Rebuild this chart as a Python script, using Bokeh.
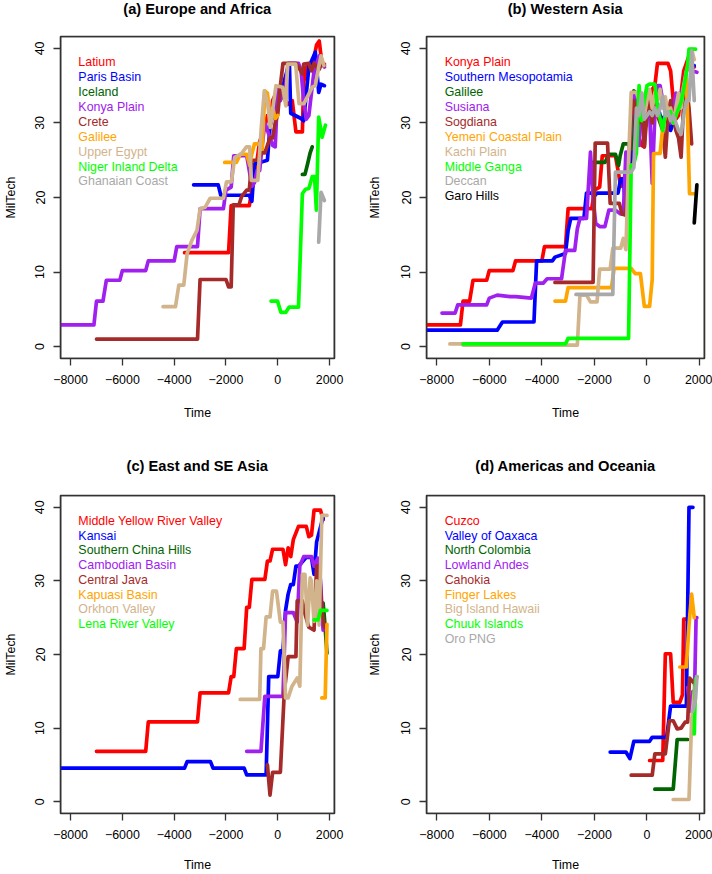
import math
from bokeh.plotting import figure
from bokeh.layouts import column, row
from bokeh.models import FixedTicker, Range1d, BoxAnnotation, Label
from bokeh.core.properties import value
from bokeh.embed import file_html
from bokeh.resources import INLINE

FONT = "Liberation Sans"

# ---------------- shared axis ticks ----------------
x_ticks = [-8000, -6000, -4000, -2000, 0, 2000]
x_tick_labels = ["\u22128000", "\u22126000", "\u22124000", "\u22122000", "0", "2000"]
y_ticks = [0, 10, 20, 30, 40]
y_tick_labels = ["0", "10", "20", "30", "40"]

colors = ["#FF0000", "#0000FF", "#006400", "#A020F0", "#A52A2A",
          "#FFA500", "#D2B48C", "#00FF00", "#A9A9A9", "#000000"]

# ---------------- shared series ----------------
konya_t = [-8500, -7100, -7000, -6750, -6620, -6100, -6000, -5100, -5000, -4000, -3900, -3100, -3000,
           -2100, -2000, -1800, -1700, -1200, -1100, -1000, -900, -800, -700, -600, -500, -400, -300,
           -200, -100, 0, 100, 200, 300, 400, 800, 900, 1000, 1100, 1200, 1300, 1400, 1500, 1600, 1700, 1800]
konya_v = [2.9, 2.9, 6.1, 6.1, 8.9, 8.9, 10.2, 10.2, 11.5, 11.5, 13.4, 13.4, 18.5,
           18.5, 21, 21.4, 25.6, 25.6, 23.6, 21.5, 22, 23.6, 23.6, 27, 30, 29, 28,
           27, 26.8, 34.5, 33, 34.5, 35, 38, 38, 37, 33, 30.5, 31, 34, 37, 38, 39, 38, 37.5]

galilee_t = [-2050, -1600, -1450, -1200, -1080, -1020, -900, -700, -640, -600, -500, -400, -300, -200, -100, 0]
galilee_v = [24.7, 24.7, 25.8, 25.8, 24.3, 25.6, 27.2, 27.2, 26.5, 26.5, 34.3, 34, 30.8, 32, 30.6, 31]

# ---------------- (a) Europe and Africa ----------------
latium_t = [-3600, -1900, -1800, -1100, -1000, -800, -700, -500, -400, -300, -200, 0, 200, 400, 560,
            700, 950, 1000, 1100, 1300, 1400, 1500, 1600, 1700, 1800]
latium_v = [12.6, 12.6, 18.9, 18.9, 21, 25, 27.5, 29.5, 31, 30, 33, 34.5, 33.5, 32.5, 33,
            28.8, 28.8, 35.5, 37.5, 38, 38.8, 40.5, 41, 38.1, 37.9]

paris_t = [-3250, -2300, -2200, -1100, -1000, -900, -400, -300, -200, 0, 200, 400, 450, 500, 900,
           1000, 1200, 1450, 1580, 1670, 1800]
paris_v = [21.7, 21.7, 20.3, 20.3, 19.5, 24.5, 25, 29.5, 31, 34.5, 35, 37.5, 37.7, 31.3, 30.6,
           30.3, 37.5, 39.5, 34.1, 35.2, 35]

iceland_t = [950, 1050, 1150, 1250, 1330]
iceland_v = [23.1, 23.1, 24.5, 26, 26.8]

crete_t = [-7000, -3100, -3000, -2000, -1900, -1800, -1720, -1500, -1400, -1200, -1100, -1000, -800,
           -600, -500, -300, -200, -100, 0, 100, 200, 700, 800, 950, 1000, 1200, 1300, 1400, 1500,
           1600, 1700, 1800]
crete_v = [1, 1, 9, 9, 8, 8, 19, 19, 20.1, 21, 21, 25, 25,
           26, 26, 28, 28, 30, 31.2, 35, 38, 38, 37.5, 36.6, 37.9, 38, 37, 38, 37.5,
           37.2, 38, 37.7]

egypt_t = [-4430, -3950, -3820, -3630, -3500, -3310, -3120, -3000, -2800, -2610, -2100, -1980, -1790,
           -1660, -1400, -1210, -1090, -1020, -770, -640, -520, -390, -290, -200, -70, 190, 310, 380,
           690, 820, 1010, 1200, 1330, 1450, 1580, 1670, 1780]
egypt_v = [5.35, 5.35, 8.25, 8.25, 12.5, 14.3, 15.6, 18.5, 18.7, 19.9, 19.9, 22.1, 22.1,
           25.4, 25.9, 26.8, 26.8, 22.3, 22.3, 29.2, 34.3, 32.6, 29.4, 31.7, 35, 34.8, 32.3, 37.9,
           37.9, 32.6, 32.6, 33.9, 34.8, 35, 37.5, 39, 37.7]

niger_t = [-260, -10, 120, 310, 440, 800, 950, 1070, 1200, 1330, 1420, 1490, 1580, 1710, 1840]
niger_v = [6.1, 6.1, 4.6, 4.6, 5.3, 5.3, 20.5, 21.1, 21.2, 22.8, 22.8, 18.3, 30.8, 28.1, 29.7]

ghana_t = [1580, 1670, 1800]
ghana_v = [14, 20.7, 19.6]

# ---------------- (b) Western Asia ----------------
smeso_t = [-8500, -5700, -5500, -4300, -4200, -3600, -3500, -3100, -3000, -2900, -2400, -2300, -2100,
           -2000, -1900, -1100, -1000, -900, -800, -700, -600, -500, -400, -300, -200, -100, 0, 100,
           200, 300, 400, 500, 600, 700, 800, 900, 1000, 1100, 1200, 1300, 1400, 1500, 1600, 1700, 1800]
smeso_v = [2.2, 2.2, 3.3, 3.3, 11.5, 11.5, 12, 12.5, 15.6, 17.2, 17.2, 20.6, 20.6,
           20.2, 20.6, 20.6, 22.5, 22.5, 18.2, 24, 24, 30, 32, 33, 31, 32.8, 33, 32.5,
           33, 32, 32.5, 31, 30.5, 31, 30, 29, 30, 31, 32, 33, 35, 37, 38, 37.7, 37.7]

susiana_t = [-7800, -7300, -7200, -6100, -6000, -5700, -5200, -5000, -4400, -4250, -3950, -3800, -3250,
             -3100, -2750, -2650, -2550, -2300, -2150, -2050, -1950, -1800, -1600, -1450, -1200, -1000,
             -900, -800, -700, -600, -500, -400, -300, -200, -100, 0, 100, 200, 300, 400, 500, 600,
             700, 800, 900, 1000, 1100, 1200, 1300, 1400, 1500, 1600, 1700, 1900]
susiana_v = [4.5, 4.5, 5.6, 5.6, 6.5, 6.9, 6.7, 6.7, 6.5, 8.5, 8.5, 9.1, 9.1,
             12.9, 12.9, 15.8, 17.2, 17.2, 26.1, 20, 16.5, 16.1, 16.1, 18.3, 18.3, 17.8,
             17.8, 26.1, 25, 30, 34, 32, 27, 33, 31, 32, 31.7, 21.9, 31, 35, 35, 33,
             32, 31, 30, 32, 34, 33, 34, 35, 37, 38, 37, 36.8]

sogdiana_t = [-3500, -2050, -1970, -1500, -1400, -1050, -950, -800, -700, -600, -500, -400, -300, -200,
              -100, 0, 100, 200, 300, 400, 500, 600, 700, 800, 900, 1000, 1100, 1200, 1300, 1400,
              1500, 1600, 1700]
sogdiana_v = [8.6, 8.6, 27.3, 27.3, 19.2, 19.2, 17.8, 17.6, 23.6, 30.7, 33, 31, 30, 32,
              26.8, 31, 33, 30, 33, 31, 30, 29, 25.4, 31, 33, 31, 29, 28, 25.4, 33,
              35, 32, 27.2]

yemen_t = [-3500, -3100, -3000, -1350, -1250, -600, -450, -250, -100, 100, 200, 250, 500, 600, 700,
           800, 900, 1000, 1100, 1200, 1300, 1400, 1500, 1550, 1620, 1800]
yemen_v = [6.1, 6.1, 7.9, 7.9, 10.5, 10.5, 9.8, 9.8, 5.4, 5.4, 9, 25.9, 25.9, 29.4, 31,
           32, 31, 30, 31, 32, 33, 35, 36, 30, 20.5, 20.5]

kachi_t = [-7500, -7050, -7000, -2650, -2550, -2300, -2150, -1900, -1800, -1400, -1300, -1000, -900,
           -800, -700, -600, -400, -300, -200, -100, 0, 100, 200, 300, 400, 500, 600, 700, 800, 900,
           1000, 1100, 1200, 1300, 1400, 1500, 1600, 1700, 1800]
kachi_v = [0.35, 0.35, 0.2, 0.2, 6.9, 6.9, 6.0, 6.0, 10.4, 10.4, 13.2, 13.2, 14.5,
           13, 25, 34.1, 34.1, 33, 34, 31, 33, 34.5, 32, 34, 33, 34.5, 32, 33.5, 31, 32,
           30, 32, 34, 32, 35, 37, 38, 39.9, 38.5]

ganga_t = [-7000, -3100, -3000, -700, -600, -500, -400, -300, -200, -100, 0, 100, 300, 400, 600, 700,
           900, 1000, 1300, 1400, 1550, 1600, 1850]
ganga_v = [0.35, 0.35, 1.1, 1.1, 24.3, 24.5, 26, 35, 30.3, 33, 35, 35.2, 35.2, 32.1, 29, 31.2,
           31.5, 30, 32.8, 34.6, 37.9, 39.9, 39.9]

deccan_t = [-2700, -1300, -1200, -600, -500, -400, -300, -200, -100, 0, 100, 200, 300, 400, 500, 600,
            700, 800, 900, 1000, 1100, 1200, 1300, 1400, 1500, 1600, 1700, 1800]
deccan_v = [7.0, 7.0, 23.4, 23.4, 24, 32, 31, 34, 30.5, 31, 31.5, 31, 32, 31, 32, 33.5,
            31, 31.5, 30.3, 31, 30, 29, 28.5, 31, 33, 33, 39.7, 33]

garo_t = [1800, 1900]
garo_v = [16.6, 21.7]

# ---------------- (c) East and SE Asia ----------------
myrv_t = [-7000, -5100, -5000, -3100, -3000, -1900, -1800, -1700, -1600, -1300, -1200, -1100, -1000,
          -500, -400, -300, -200, 200, 300, 400, 500, 600, 800, 1100, 1200, 1300, 1400, 1650, 1750]
myrv_v = [6.85, 6.85, 10.85, 10.85, 14.8, 14.8, 17, 17, 20.8, 20.8, 26.4, 26.4, 30.2,
          30.2, 32.7, 32.7, 34.3, 34.3, 32.2, 34.5, 33.3, 35.6, 37.4, 37.4, 36, 36.2, 39.6, 39.6, 38.3]

kansai_t = [-8500, -3600, -3500, -2600, -2500, -1300, -1200, -450, -350, 0, 100, 200, 300, 400, 500,
            600, 700, 800, 1100, 1300, 1400, 1500, 1700, 1750]
kansai_v = [4.56, 4.56, 5.45, 5.45, 4.56, 4.56, 3.65, 3.65, 17, 17, 20.5, 20.5, 26, 28.2, 29.5,
            29.5, 32, 32, 33.2, 33.2, 30.9, 35.3, 38, 38.5]

schina_t = [1650, 1750, 1800, 1900]
schina_v = [24.5, 27, 25, 20.2]

cambod_t = [-1200, -650, -500, 200, 300, 600, 750, 850, 1000, 1300, 1400, 1550, 1650, 1750]
cambod_v = [6.85, 6.85, 14.3, 14.3, 25.7, 25.7, 24.4, 32, 33.3, 33.3, 32, 33.1, 30, 23.3]

java_t = [-400, -300, -200, 100, 250, 400, 700, 750, 950, 1050, 1200, 1400, 1500, 1600, 1700, 1800]
java_v = [5, 0.9, 4, 4, 14.8, 19.7, 19.7, 27.3, 27.3, 25.5, 23.7, 23.3, 32, 32, 26, 23.7]

kapuasi_t = [1700, 1830, 1900]
kapuasi_v = [14.1, 14.1, 24.1]

orkhon_t = [-1450, -700, -650, -550, -450, -300, -200, -50, 100, 200, 300, 400, 550, 750, 850, 950,
            1050, 1150, 1250, 1300, 1400, 1500, 1600, 1700, 1900]
orkhon_v = [13.9, 13.9, 20.8, 20.8, 25.1, 25.1, 28.6, 28.6, 24.4, 24.4, 14.1, 14.1, 15.7, 16.8, 15.7,
            30.9, 30.9, 24, 30.4, 30, 24.5, 30, 24, 38.9, 38.9]

lena_t = [1400, 1550, 1650, 1900]
lena_v = [24.7, 24.7, 26, 26]

# ---------------- (d) Americas and Oceania ----------------
cuzco_t = [100, 600, 700, 900, 1000, 1250, 1350, 1400, 1530]
cuzco_v = [5.6, 5.6, 20.1, 20.1, 13.5, 13.5, 14.5, 24.8, 24.8]

oaxaca_t = [-1400, -800, -650, -500, 100, 200, 750, 900, 1500, 1600, 1750]
oaxaca_v = [6.75, 6.75, 5.85, 8.2, 8.2, 8.75, 8.75, 13, 13, 40, 40]

ncolombia_t = [300, 1000, 1150, 1550]
ncolombia_v = [1.7, 1.7, 8.45, 8.45]

lowandes_t = [1550, 1650, 1750, 1800, 1870, 1900]
lowandes_v = [15.5, 12.3, 15, 13, 25, 25]

cahokia_t = [-600, 200, 300, 700, 850, 1000, 1150, 1300, 1450, 1550, 1620, 1700, 1800]
cahokia_v = [3.6, 3.6, 6.5, 6.5, 11, 11, 9.9, 10, 10.8, 10.8, 16.8, 16.5, 16.1]

finger_t = [1250, 1500, 1600, 1700, 1800]
finger_v = [18.3, 18.3, 24, 28.2, 25]

hawaii_t = [1000, 1600, 1700, 1800, 1900]
hawaii_v = [0.3, 0.3, 11, 15, 17]

chuuk_t = [1800, 1850, 1900]
chuuk_v = [9.2, 16.6, 17]

oro_t = [1750, 1850, 1900]
oro_v = [12.3, 14, 17]

# ---------------- panel definitions ----------------
titles = ["(a) Europe and Africa", "(b) Western Asia", "(c) East and SE Asia", "(d) Americas and Oceania"]

names_a = ["Latium", "Paris Basin", "Iceland", "Konya Plain", "Crete", "Galilee", "Upper Egypt",
           "Niger Inland Delta", "Ghanaian Coast"]
series_a = [(latium_t, latium_v), (paris_t, paris_v), (iceland_t, iceland_v), (konya_t, konya_v),
            (crete_t, crete_v), (galilee_t, galilee_v), (egypt_t, egypt_v), (niger_t, niger_v),
            (ghana_t, ghana_v)]

names_b = ["Konya Plain", "Southern Mesopotamia", "Galilee", "Susiana", "Sogdiana", "Yemeni Coastal Plain",
           "Kachi Plain", "Middle Ganga", "Deccan", "Garo Hills"]
series_b = [(konya_t, konya_v), (smeso_t, smeso_v), (galilee_t, galilee_v), (susiana_t, susiana_v),
            (sogdiana_t, sogdiana_v), (yemen_t, yemen_v), (kachi_t, kachi_v), (ganga_t, ganga_v),
            (deccan_t, deccan_v), (garo_t, garo_v)]

names_c = ["Middle Yellow River Valley", "Kansai", "Southern China Hills", "Cambodian Basin", "Central Java",
           "Kapuasi Basin", "Orkhon Valley", "Lena River Valley"]
series_c = [(myrv_t, myrv_v), (kansai_t, kansai_v), (schina_t, schina_v), (cambod_t, cambod_v),
            (java_t, java_v), (kapuasi_t, kapuasi_v), (orkhon_t, orkhon_v), (lena_t, lena_v)]

names_d = ["Cuzco", "Valley of Oaxaca", "North Colombia", "Lowland Andes", "Cahokia", "Finger Lakes",
           "Big Island Hawaii", "Chuuk Islands", "Oro PNG"]
series_d = [(cuzco_t, cuzco_v), (oaxaca_t, oaxaca_v), (ncolombia_t, ncolombia_v), (lowandes_t, lowandes_v),
            (cahokia_t, cahokia_v), (finger_t, finger_v), (hawaii_t, hawaii_v), (chuuk_t, chuuk_v),
            (oro_t, oro_v)]

W = 356
H = 437


def make_title(title, strip_h, center_from_top, b_left, b_right):
    """A thin strip figure that only carries the panel title, centred over the plot frame."""
    t = figure(width=W, height=strip_h, output_backend="svg", toolbar_location=None,
               x_range=Range1d(0, 1), y_range=Range1d(0, strip_h),
               x_axis_location=None, y_axis_location=None,
               min_border_left=b_left, min_border_right=b_right, min_border_top=0, min_border_bottom=0)
    t.xgrid.visible = False
    t.ygrid.visible = False
    t.outline_line_color = None
    t.background_fill_color = "white"
    t.border_fill_color = "white"
    t.add_layout(Label(x=0.5, y=strip_h - center_from_top, text=title, text_font=FONT,
                       text_font_size="14.7px", text_font_style="bold", text_color="black",
                       text_align="center", text_baseline="middle"))
    return t


def make_panel(names, series, fig_h, b_left, b_right, b_top, b_bottom, ylab_off, xlab_off):
    p = figure(width=W, height=fig_h, output_backend="svg", toolbar_location=None,
               x_range=Range1d(-8390, 2190), y_range=Range1d(-1.6, 41.6),
               min_border_left=b_left, min_border_right=b_right,
               min_border_top=b_top, min_border_bottom=b_bottom)
    p.xgrid.visible = False
    p.ygrid.visible = False
    p.outline_line_color = "#333333"
    p.outline_line_width = 1.6
    p.outline_line_alpha = 1.0
    p.background_fill_color = "white"
    p.border_fill_color = "white"
    p.add_layout(BoxAnnotation(fill_alpha=0, line_color="#333333", line_width=1.6, line_alpha=1))

    p.xaxis.ticker = FixedTicker(ticks=x_ticks)
    p.xaxis.major_label_overrides = {k: v for k, v in zip(x_ticks, x_tick_labels)}
    p.yaxis.ticker = FixedTicker(ticks=y_ticks)
    p.yaxis.major_label_overrides = {k: v for k, v in zip(y_ticks, y_tick_labels)}
    p.yaxis.major_label_orientation = "parallel"
    p.xaxis.axis_label = "Time"
    p.yaxis.axis_label = "MilTech"
    for ax in (p.xaxis, p.yaxis):
        ax.axis_line_color = None
        ax.major_tick_out = 7
        ax.major_tick_in = 0
        ax.minor_tick_out = 0
        ax.minor_tick_in = 0
        ax.major_tick_line_color = "#333333"
        ax.major_tick_line_width = 1.3
        ax.major_label_text_font = FONT
        ax.major_label_text_font_size = "12.4px"
        ax.major_label_text_color = "black"
        ax.major_label_standoff = 9
        ax.axis_label_text_font = FONT
        ax.axis_label_text_font_size = "12.4px"
        ax.axis_label_text_font_style = "normal"
        ax.axis_label_text_color = "black"
    p.yaxis.axis_label_standoff = ylab_off
    p.xaxis.axis_label_standoff = xlab_off

    for i, (t, v) in enumerate(series):
        p.line(t, v, line_color=colors[i], line_width=3.7, line_join="round", line_cap="round")

    n = len(names)
    p.text(x=[-7700] * n, y=[38.15 - 2.0 * i for i in range(n)], text=names,
           text_color=colors[:n], text_font=value(FONT), text_font_size=value("12.4px"),
           text_baseline="middle", text_align="left")
    return p


# top row: title strip 17 px (title centred 8 px from the top), plot frame starts 36 px from the top
TOP_STRIP = 17
ta = make_title(titles[0], TOP_STRIP, 8, 57, 22)
tb = make_title(titles[1], TOP_STRIP, 8, 70, 8)
pa = make_panel(names_a, series_a, H - TOP_STRIP, 57, 22, 36 - TOP_STRIP, 79, 15, 19)
pb = make_panel(names_b, series_b, H - TOP_STRIP, 70, 8, 36 - TOP_STRIP, 79, 17, 19)

# bottom row: title strip 40 px (title centred 28 px from the top), plot frame starts 58 px from the top
BOT_STRIP = 40
tc = make_title(titles[2], BOT_STRIP, 28, 57, 22)
td = make_title(titles[3], BOT_STRIP, 28, 70, 8)
pc = make_panel(names_c, series_c, H - BOT_STRIP, 57, 22, 58 - BOT_STRIP, 57, 15, 16)
pd = make_panel(names_d, series_d, H - BOT_STRIP, 70, 8, 58 - BOT_STRIP, 57, 17, 16)

layout = column(
    row(column(ta, pa, spacing=0), column(tb, pb, spacing=0), spacing=0),
    row(column(tc, pc, spacing=0), column(td, pd, spacing=0), spacing=0),
    spacing=0,
)

open("out.html", "w").write(file_html(layout, INLINE))
